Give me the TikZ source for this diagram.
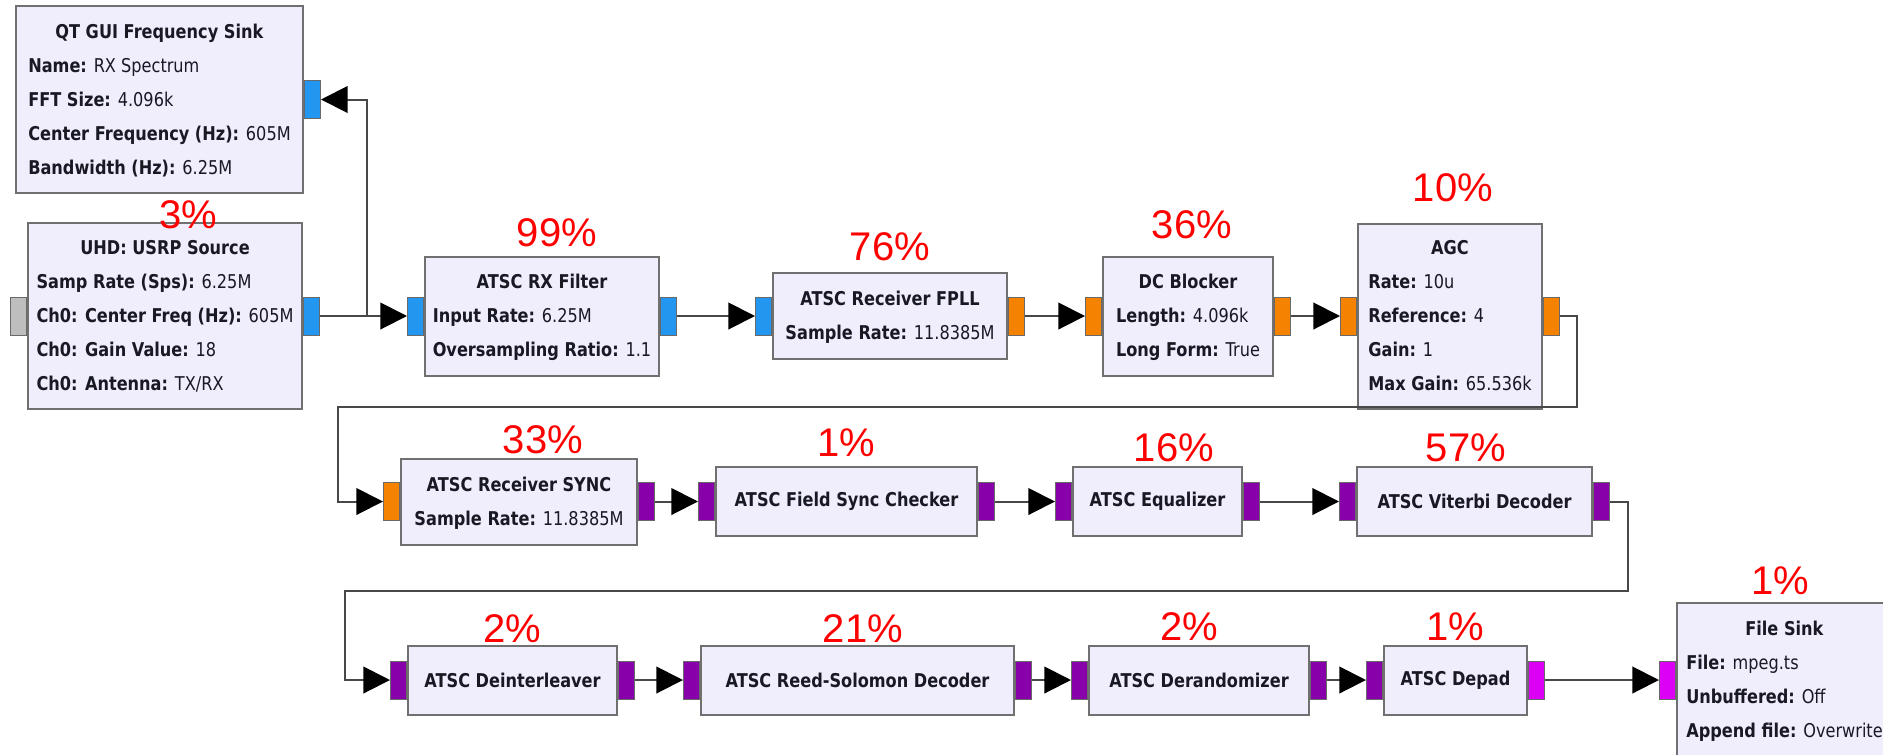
\documentclass[tikz,border=0pt]{standalone}
\usepackage{fontspec}
\usetikzlibrary{arrows.meta}
\newfontfamily\grcfont[FakeStretch=0.85]{DejaVu Sans}
\newfontfamily\pctfont{Liberation Sans}
\newcommand{\blocktitle}[1]{\multicolumn{1}{@{}c@{}}{\textbf{#1}}}
\definecolor{portgray}{RGB}{190,190,190}
\definecolor{portblue}{RGB}{35,150,240}
\definecolor{portorange}{RGB}{245,130,0}
\definecolor{portpurple}{RGB}{136,0,170}
\definecolor{portmagenta}{RGB}{220,0,245}

\tikzset{every picture/.style={line width=0.75pt}}
\tikzset{
  block/.style={draw={rgb, 255:red, 112; green, 112; blue, 112}, fill={rgb, 255:red, 240; green, 237; blue, 253}, line width=1.5pt, inner xsep=4pt, inner ysep=0pt, text={rgb, 255:red, 25; green, 25; blue, 35}, font=\grcfont\fontsize{14.25}{25.5}\selectfont},
  port/.style={draw={rgb, 255:red, 105; green, 105; blue, 105}, line width=0.75pt, minimum width=12pt, minimum height=28.5pt, inner sep=0pt},
  wire/.style={draw={rgb, 255:red, 72; green, 72; blue, 72}, line width=1.5pt, -{Triangle[length=20pt, width=20pt, color=black]}},
  pct/.style={text={rgb, 255:red, 255; green, 0; blue, 0}, inner sep=0pt, font=\pctfont\fontsize{30}{36}\selectfont}
}

\begin{document}
\begin{tikzpicture}[x=0.75pt,y=0.75pt,yscale=-1,xscale=1]
\path [use as bounding box, fill=white] (0,0) rectangle (1883,754);

% Text Node
\node [block, minimum width=215.25pt, minimum height=140.25pt] (qtsink) at (159.5,99.5) {\begin{tabular}{@{}l@{}}\blocktitle{QT GUI Frequency Sink}\\ \textbf{Name:} RX Spectrum\\ \textbf{FFT Size:} 4.096k\\ \textbf{Center Frequency (Hz):} 605M\\ \textbf{Bandwidth (Hz):} 6.25M\end{tabular}};
\node [port, fill=portblue, anchor=west] (qtin) at (qtsink.east) {};
% Text Node
\node [block, minimum width=205.5pt, minimum height=139.5pt] (usrp) at (165,316) {\begin{tabular}{@{}l@{}}\blocktitle{UHD: USRP Source}\\ \textbf{Samp Rate (Sps):} 6.25M\\ \textbf{Ch0: Center Freq (Hz):} 605M\\ \textbf{Ch0: Gain Value:} 18\\ \textbf{Ch0: Antenna:} TX/RX\end{tabular}};
\node [port, fill=portgray, anchor=east] (usrpin) at (usrp.west) {};
\node [port, fill=portblue, anchor=west] (usrpout) at (usrp.east) {};
% Text Node
\node [block, minimum width=175.5pt, minimum height=89.25pt] (rxfilt) at (542,316) {\begin{tabular}{@{}l@{}}\blocktitle{ATSC RX Filter}\\ \textbf{Input Rate:} 6.25M\\ \textbf{Oversampling Ratio:} 1.1\end{tabular}};
\node [port, fill=portblue, anchor=east] (rxin) at (rxfilt.west) {};
\node [port, fill=portblue, anchor=west] (rxout) at (rxfilt.east) {};
% Text Node
\node [block, minimum width=175.5pt, minimum height=64.5pt] (fpll) at (890,316) {\begin{tabular}{@{}l@{}}\blocktitle{ATSC Receiver FPLL}\\ \textbf{Sample Rate:} 11.8385M\end{tabular}};
\node [port, fill=portblue, anchor=east] (fpllin) at (fpll.west) {};
\node [port, fill=portorange, anchor=west] (fpllout) at (fpll.east) {};
% Text Node
\node [block, minimum width=127.5pt, minimum height=89.25pt] (dcblock) at (1188,316) {\begin{tabular}{@{}l@{}}\blocktitle{DC Blocker}\\ \textbf{Length:} 4.096k\\ \textbf{Long Form:} True\end{tabular}};
\node [port, fill=portorange, anchor=east] (dcin) at (dcblock.west) {};
\node [port, fill=portorange, anchor=west] (dcout) at (dcblock.east) {};
% Text Node
\node [block, minimum width=138pt, minimum height=138.75pt] (agc) at (1450,316) {\begin{tabular}{@{}l@{}}\blocktitle{AGC}\\ \textbf{Rate:} 10u\\ \textbf{Reference:} 4\\ \textbf{Gain:} 1\\ \textbf{Max Gain:} 65.536k\end{tabular}};
\node [port, fill=portorange, anchor=east] (agcin) at (agc.west) {};
\node [port, fill=portorange, anchor=west] (agcout) at (agc.east) {};

% Text Node
\node [block, minimum width=177pt, minimum height=64.5pt] (sync) at (519,501.5) {\begin{tabular}{@{}l@{}}\blocktitle{ATSC Receiver SYNC}\\ \textbf{Sample Rate:} 11.8385M\end{tabular}};
\node [port, fill=portorange, anchor=east] (syncin) at (sync.west) {};
\node [port, fill=portpurple, anchor=west] (syncout) at (sync.east) {};
% Text Node
\node [block, minimum width=195.75pt, minimum height=51.75pt] (fieldsync) at (846.5,501.5) {\textbf{ATSC Field Sync Checker}};
\node [port, fill=portpurple, anchor=east] (fsin) at (fieldsync.west) {};
\node [port, fill=portpurple, anchor=west] (fsout) at (fieldsync.east) {};
% Text Node
\node [block, minimum width=126.75pt, minimum height=51.75pt] (equal) at (1157.5,501.5) {\textbf{ATSC Equalizer}};
\node [port, fill=portpurple, anchor=east] (eqin) at (equal.west) {};
\node [port, fill=portpurple, anchor=west] (eqout) at (equal.east) {};
% Text Node
\node [block, minimum width=176.25pt, minimum height=51.75pt] (viterbi) at (1474.5,501.5) {\textbf{ATSC Viterbi Decoder}};
\node [port, fill=portpurple, anchor=east] (vitin) at (viterbi.west) {};
\node [port, fill=portpurple, anchor=west] (vitout) at (viterbi.east) {};

% Text Node
\node [block, minimum width=156.75pt, minimum height=51.75pt] (deint) at (512.5,680) {\textbf{ATSC Deinterleaver}};
\node [port, fill=portpurple, anchor=east] (deintin) at (deint.west) {};
\node [port, fill=portpurple, anchor=west] (deintout) at (deint.east) {};
% Text Node
\node [block, minimum width=234.75pt, minimum height=51.75pt] (rsdec) at (857.5,680) {\textbf{ATSC Reed-Solomon Decoder}};
\node [port, fill=portpurple, anchor=east] (rsin) at (rsdec.west) {};
\node [port, fill=portpurple, anchor=west] (rsout) at (rsdec.east) {};
% Text Node
\node [block, minimum width=165pt, minimum height=51.75pt] (derand) at (1199,680) {\textbf{ATSC Derandomizer}};
\node [port, fill=portpurple, anchor=east] (derandin) at (derand.west) {};
\node [port, fill=portpurple, anchor=west] (derandout) at (derand.east) {};
% Text Node
\node [block, minimum width=107.25pt, minimum height=51.75pt] (depad) at (1455.5,680) {\textbf{ATSC Depad}};
\node [port, fill=portpurple, anchor=east] (depadin) at (depad.west) {};
\node [port, fill=portmagenta, anchor=west] (depadout) at (depad.east) {};
% Text Node
\node [block, minimum width=161.25pt, minimum height=115.5pt] (filesink) at (1784.5,680) {\begin{tabular}{@{}l@{}}\blocktitle{File Sink}\\ \textbf{File:} mpeg.ts\\ \textbf{Unbuffered:} Off\\ \textbf{Append file:} Overwrite\end{tabular}};
\node [port, fill=portmagenta, anchor=east] (fsinkin) at (filesink.west) {};

%Straight Lines
\coordinate (split) at (367,316);
\draw [wire] (usrpout.east) -- (rxin.west);
\draw [wire] (split) |- (qtin.east);
\draw [wire] (rxout.east) -- (fpllin.west);
\draw [wire] (fpllout.east) -- (dcin.west);
\draw [wire] (dcout.east) -- (agcin.west);
%Straight Lines
\coordinate (turnA) at (1577,407);
\coordinate (turnB) at (338,407);
\draw [wire] (agcout.east) -| (turnA) -- (turnB) |- (syncin.west);
\draw [wire] (syncout.east) -- (fsin.west);
\draw [wire] (fsout.east) -- (eqin.west);
\draw [wire] (eqout.east) -- (vitin.west);
%Straight Lines
\coordinate (turnC) at (1628,591);
\coordinate (turnD) at (345,591);
\draw [wire] (vitout.east) -| (turnC) -- (turnD) |- (deintin.west);
\draw [wire] (deintout.east) -- (rsin.west);
\draw [wire] (rsout.east) -- (derandin.west);
\draw [wire] (derandout.east) -- (depadin.west);
\draw [wire] (depadout.east) -- (fsinkin.west);

% Text Node
\node [pct] (pctusrp) at (188,215) {3\%};
\node [pct] (pctrx) at (557,233) {99\%};
\node [pct] (pctfpll) at (890,247) {76\%};
\node [pct] (pctdc) at (1192,225) {36\%};
\node [pct] (pctagc) at (1453,188) {10\%};
\node [pct] (pctsync) at (543,440) {33\%};
\node [pct] (pctfs) at (846,443) {1\%};
\node [pct] (pcteq) at (1174,448) {16\%};
\node [pct] (pctvit) at (1466,448) {57\%};
\node [pct] (pctdeint) at (512,629) {2\%};
\node [pct] (pctrs) at (863,629) {21\%};
\node [pct] (pctderand) at (1189,627) {2\%};
\node [pct] (pctdepad) at (1455,627) {1\%};
\node [pct] (pctsink) at (1780,581) {1\%};

\end{tikzpicture}
\end{document}
